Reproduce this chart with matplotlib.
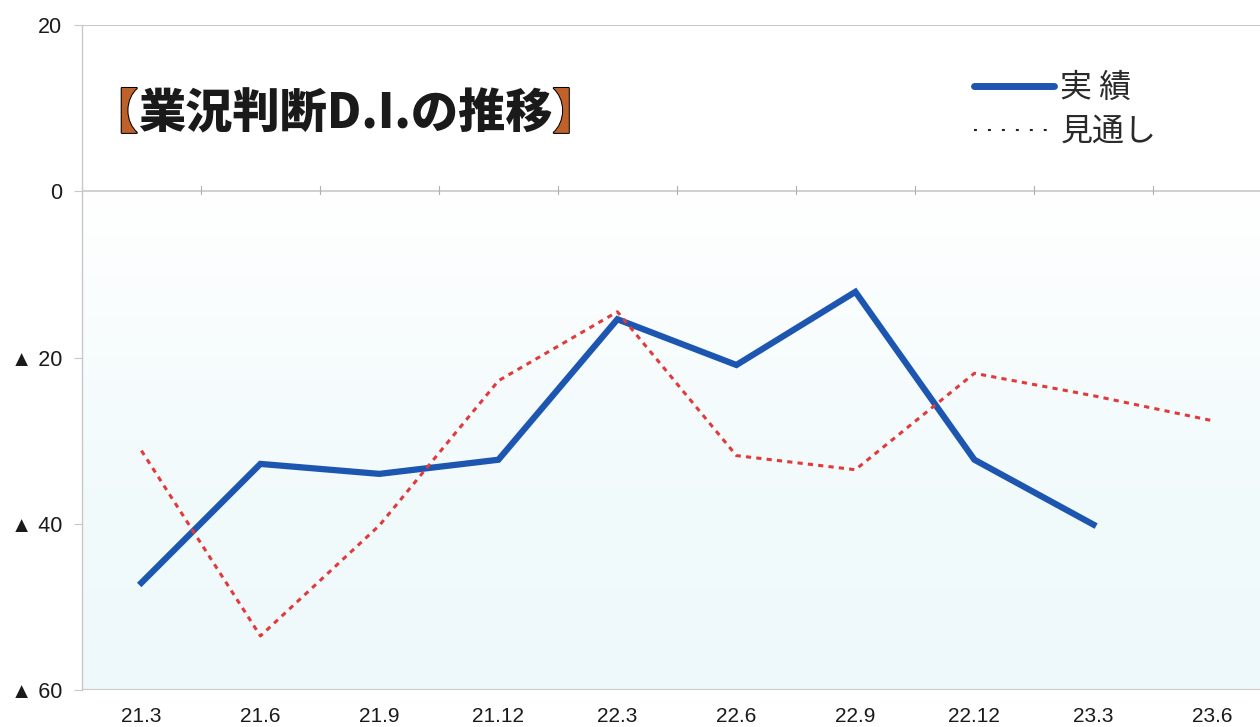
import numpy as np
import matplotlib
matplotlib.use('Agg')
import matplotlib.pyplot as plt
import matplotlib.patheffects as pe
from matplotlib.lines import Line2D
from matplotlib.offsetbox import TextArea, HPacker, AnnotationBbox
from matplotlib.colors import LinearSegmentedColormap

plt.rcParams['font.family'] = ['Liberation Sans', 'DejaVu Sans', 'Noto Sans CJK JP']

periods = ['21.3', '21.6', '21.9', '21.12', '22.3', '22.6', '22.9', '22.12', '23.3', '23.6']
actual = [-47.1, -32.8, -34.0, -32.3, -15.4, -20.9, -12.1, -32.3, -40.1]
outlook = [-31.2, -53.5, -40.2, -22.8, -14.5, -31.8, -33.5, -21.9, -24.6, -27.6]
yticks = [20, 0, -20, -40, -60]

fig = plt.figure(figsize=(12.6, 7.27), dpi=100)
ax = fig.add_axes([0.065, 0.0509, 0.935, 0.9147])
x = np.arange(len(periods))
ax.set_xlim(-0.5, 9.4)
ax.set_ylim(-60, 20)

# pale cyan gradient below the zero line (white at 0, tinted at bottom)
cmap = LinearSegmentedColormap.from_list('bg', ['#ffffff', '#f3fbfc', '#eef9fb'])
grad = np.linspace(0, 1, 200).reshape(-1, 1)
ax.imshow(grad, extent=(-0.5, 9.4, -60, 0), cmap=cmap, aspect='auto', zorder=0, origin='upper')

for v in [20, -60]:
    ax.axhline(v, color='#c8c8c8', lw=1.5, zorder=1)
ax.axhline(0, color='#c8c8c8', lw=1.2, zorder=1)
for b in np.arange(-0.5, 9.5, 1.0):
    ax.plot([b, b], [-0.3, 0.6], color='#b0b0b0', lw=0.8, zorder=1)

ax.plot(x[:len(actual)], actual, color='#1c56b0', lw=4.5, solid_joinstyle='miter', zorder=3)
ax.plot(x, outlook, color='#e23a3a', lw=2.2, dashes=(1.7, 1.7), zorder=4)

for s in ['top', 'right', 'bottom']:
    ax.spines[s].set_visible(False)
ax.spines['left'].set_color('#c8c8c8')
ax.spines['left'].set_linewidth(1.0)

ax.set_yticks(yticks)
ax.set_yticklabels([str(v) if v >= 0 else '▲ ' + str(-v) for v in yticks], fontsize=15.5, color='#1a1a1a')
ax.tick_params(axis='y', length=6, color='#c8c8c8', pad=8)
ax.set_xticks(x)
ax.set_xticklabels(periods, fontsize=15, color='#1a1a1a')
ax.tick_params(axis='x', length=0, pad=12)

# title with orange brackets
tfont = dict(family='Noto Sans CJK JP', size=34, weight='black')
stroke = [pe.withStroke(linewidth=1.5, foreground='black')]
parts = [TextArea('【', textprops=dict(color='#c0612a', path_effects=stroke, **tfont)),
         TextArea('業況判断D.I.の推移', textprops=dict(color='#1a1a1a', **tfont)),
         TextArea('】', textprops=dict(color='#c0612a', path_effects=stroke, **tfont))]
box = HPacker(children=parts, pad=0, sep=0)
ab = AnnotationBbox(box, (0.072, 0.843), xycoords='figure fraction', box_alignment=(0, 0.5), frameon=False)
fig.add_artist(ab)

handles = [Line2D([], [], color='#1c56b0', lw=5, solid_capstyle='round'),
           Line2D([], [], color='#222222', lw=1.5, dashes=(1.4, 5.3))]
leg = ax.legend(handles, ['実 績', '見通し'], loc='upper left', bbox_to_anchor=(0.733, 0.973),
                frameon=False, handlelength=2.5, handletextpad=0.2, labelspacing=0.38,
                prop=dict(family='Noto Sans CJK JP', size=23))
for t in leg.get_texts():
    t.set_color('#2a2a2a')

fig.savefig('out.png', dpi=100)
